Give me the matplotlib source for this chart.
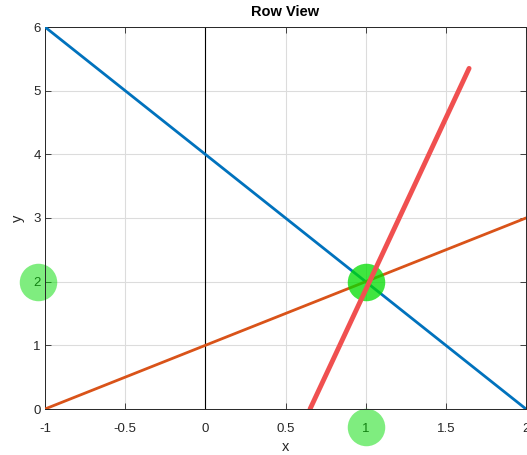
import matplotlib.pyplot as plt

plt.rcParams['font.family'] = ['Liberation Sans', 'DejaVu Sans']

# Zeilenansicht: zwei Geraden + eine dritte, Schnittpunkt bei (1, 2)
x_ends = [-1, 2]
blue_y = [6, 0]        # y = 4 - 2x
orange_y = [0, 3]      # y = x + 1
red_x = [0.653, 1.645]
red_y = [0, 5.35]
solution = (1, 2)

fig = plt.figure(figsize=(5.27, 4.55), dpi=100)
ax = fig.add_axes([45 / 527, 46 / 455, 481 / 527, 382 / 455])

ax.plot([0, 0], [0, 6], color='black', lw=0.8, zorder=2)
ax.plot(x_ends, blue_y, color='#0072BD', lw=2.0, zorder=3)
ax.plot(x_ends, orange_y, color='#D95319', lw=2.0, zorder=3)

# Markierung des Schnittpunkts
ax.plot(*solution, 'o', ms=27, color='#00DD00', alpha=0.75, mec='none', zorder=4)
ax.plot(red_x, red_y, color='#F05050', lw=3.5, solid_capstyle='round', zorder=5)

# Hervorhebung der zugehörigen Achsenbeschriftungen
ax.plot(-1.043, solution[1], 'o', ms=27, color='#00DD00', alpha=0.5, mec='none',
        clip_on=False, zorder=1)
ax.plot(solution[0], -0.28, 'o', ms=27, color='#00DD00', alpha=0.5, mec='none',
        clip_on=False, zorder=1)

ax.set_xlim(-1, 2)
ax.set_ylim(0, 6)
ax.set_xticks([-1, -0.5, 0, 0.5, 1, 1.5, 2])
ax.set_xticklabels(['-1', '-0.5', '0', '0.5', '1', '1.5', '2'])
ax.set_yticks(range(7))
ax.grid(True, color='#dcdcdc', lw=0.8)
ax.set_axisbelow(True)
ax.tick_params(direction='in', length=4, width=0.6, colors='#262626',
               labelsize=9.5, top=True, right=True)
ax.tick_params(axis='x', pad=10)
ax.tick_params(axis='y', pad=3)
for s in ax.spines.values():
    s.set_color('#262626')
    s.set_linewidth(0.7)

ax.set_title('Row View', fontsize=10.5, fontweight='bold', pad=8)
ax.set_xlabel('x', fontsize=10.5, color='#262626', labelpad=4)
ax.set_ylabel('y', fontsize=10.5, color='#262626', labelpad=6)

fig.savefig('out.png', dpi=100)
